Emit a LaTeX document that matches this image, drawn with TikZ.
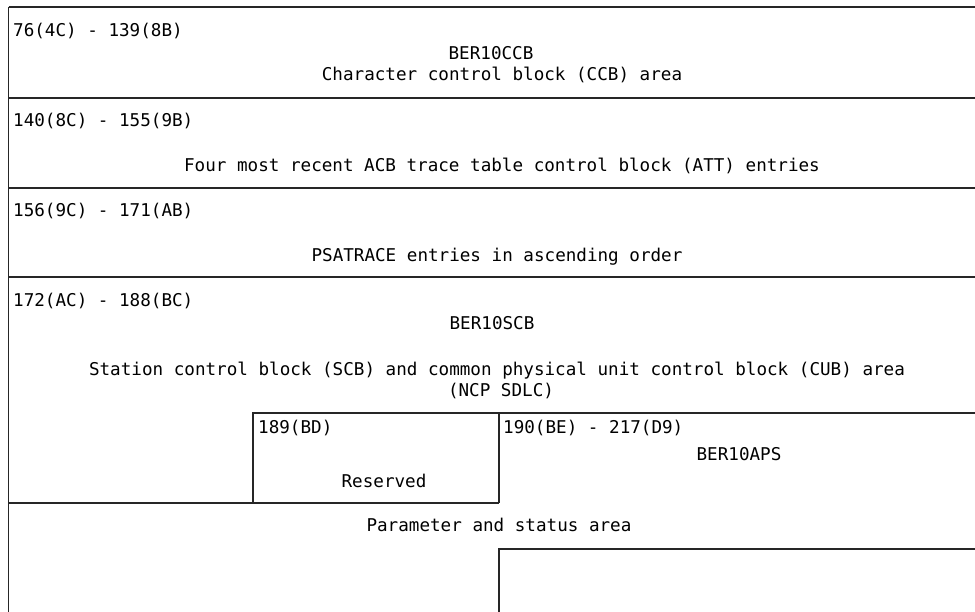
\documentclass[tikz,border=0pt]{standalone}
\usepackage{fontspec}
\setmonofont{DejaVu Sans Mono}
\begin{document}
\begin{tikzpicture}[x=1pt,y=-1pt,
  rule/.style={draw=black!85, line width=1.1pt},
  offs/.style={anchor=base west, inner sep=0pt, font=\ttfamily\fontsize{17.6}{20}\selectfont},
  desc/.style={anchor=base, inner sep=0pt, font=\ttfamily\fontsize{17.6}{20}\selectfont}]
  \useasboundingbox (0,0) rectangle (975,612);
  % frame: top edge, left edge and row separators
  \draw[rule] (8.5,7) -- (975,7);
  \draw[rule] (8.5,7) -- (8.5,612);
  \draw[rule] (8.5,98) -- (975,98);
  \draw[rule] (8.5,188) -- (975,188);
  \draw[rule] (8.5,277) -- (975,277);
  % reserved byte and APS area
  \draw[rule] (253,503) -- (253,413) -- (975,413);
  \draw[rule] (499,413) -- (499,503);
  \draw[rule] (8.5,503) -- (499,503);
  \draw[rule] (499,612) -- (499,549) -- (975,549);

  % CCB area
  \node[offs] (o1) at (13,37) {76(4C) - 139(8B)};
  \node[desc] (n1) at (491,60) {BER10CCB};
  \node[desc] (d1) at (502,80.5) {Character control block (CCB) area};
  % ATT entries
  \node[offs] (o2) at (13,127) {140(8C) - 155(9B)};
  \node[desc] (d2) at (502,172) {Four most recent ACB trace table control block (ATT) entries};
  % PSATRACE entries
  \node[offs] (o3) at (13,217) {156(9C) - 171(AB)};
  \node[desc] (d3) at (497,262) {PSATRACE entries in ascending order};
  % SCB area
  \node[offs] (o4) at (13,307) {172(AC) - 188(BC)};
  \node[desc] (n4) at (492,330) {BER10SCB};
  \node[desc] (d4) at (497,375) {Station control block (SCB) and common physical unit control block (CUB) area};
  \node[desc] (d4b) at (501,396) {(NCP SDLC)};
  % reserved
  \node[offs] (o5) at (258,433) {189(BD)};
  \node[desc] (d5) at (384,487) {Reserved};
  % APS
  \node[offs] (o6) at (503,433) {190(BE) - 217(D9)};
  \node[desc] (n6) at (739,460) {BER10APS};
  \node[desc] (d6) at (499,531) {Parameter and status area};
\end{tikzpicture}
\end{document}
